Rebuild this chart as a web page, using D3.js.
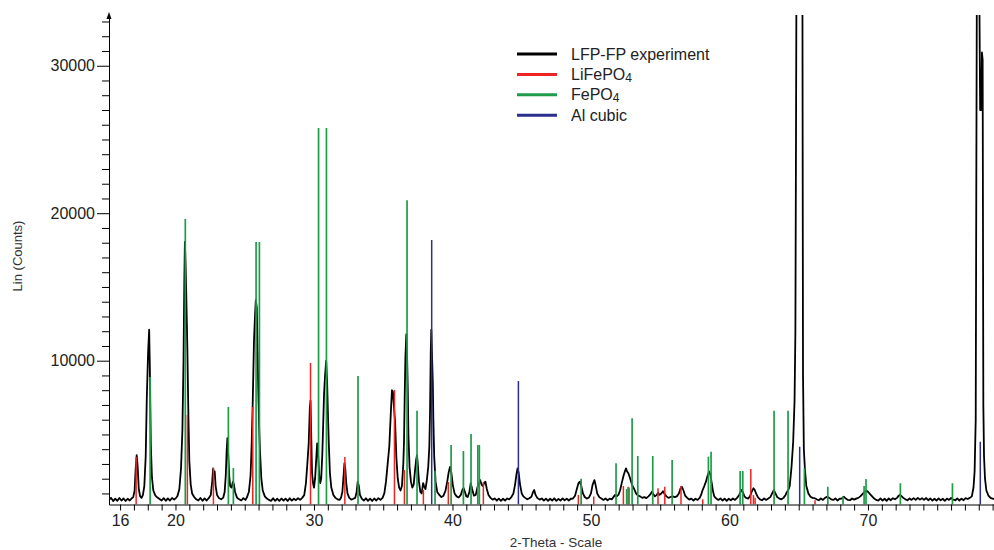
<!doctype html>
<html>
<head>
<meta charset="utf-8">
<title>XRD LFP-FP</title>
<style>
    body { margin: 0; background: #fff; }
    svg { display: block; font-family: "Liberation Sans", Arial, sans-serif; }
</style>
</head>
<body>

<svg width="994" height="550"></svg>

<script src="https://d3js.org/d3.v7.min.js"></script>
<script>
    let experiment = [
        [15.2,560],[15.35,700],[15.5,480],[15.65,650],[15.8,500],[15.95,690],[16.1,520],[16.25,660],[16.4,490],[16.55,640],
        [16.7,520],[16.85,680],[16.95,750],[17.05,1200],[17.12,2600],[17.2,3600],[17.27,2800],[17.35,1300],[17.45,800],[17.55,700],
        [17.65,900],[17.75,1500],[17.85,3500],[17.93,7500],[18.02,10500],[18.1,12100],[18.15,9500],[18.22,4300],[18.3,2100],[18.4,1200],
        [18.55,850],[18.7,720],[18.85,620],[19.0,520],[19.15,680],[19.3,500],[19.45,660],[19.6,520],[19.75,690],[19.9,580],
        [20.05,700],[20.15,850],[20.28,1300],[20.4,2700],[20.5,5300],[20.58,10000],[20.64,15500],[20.68,18050],[20.73,16500],[20.77,14900],
        [20.86,10700],[20.93,6400],[21.0,3200],[21.1,1600],[21.2,1000],[21.35,760],[21.5,600],[21.65,520],[21.8,690],[21.95,500],
        [22.1,660],[22.25,520],[22.4,680],[22.55,900],[22.65,1800],[22.72,2700],[22.78,2300],[22.83,2500],[22.9,1500],[23.0,900],
        [23.15,680],[23.3,600],[23.45,720],[23.55,1100],[23.63,2200],[23.7,4000],[23.75,4750],[23.8,3800],[23.88,2200],[23.95,1500],
        [24.05,1400],[24.15,1800],[24.22,1600],[24.3,1100],[24.45,700],[24.6,600],[24.75,520],[24.9,680],[25.05,560],[25.15,720],
        [25.3,1100],[25.42,2200],[25.5,4300],[25.58,7300],[25.67,11400],[25.75,13200],[25.8,14100],[25.87,13600],[25.93,10500],[25.99,7500],
        [26.05,5200],[26.11,3700],[26.2,2000],[26.3,1200],[26.45,800],[26.6,650],[26.75,560],[26.9,500],[27.05,670],[27.2,500],
        [27.35,640],[27.5,490],[27.65,660],[27.8,510],[27.95,650],[28.1,490],[28.25,670],[28.4,510],[28.55,640],[28.7,540],
        [28.85,680],[29.0,560],[29.15,700],[29.3,900],[29.42,1700],[29.52,3000],[29.62,4400],[29.7,6800],[29.75,7300],[29.8,5000],
        [29.86,2400],[29.93,1700],[30.0,1400],[30.08,2000],[30.16,3300],[30.23,4400],[30.3,3600],[30.38,2200],[30.45,1700],[30.52,2000],
        [30.6,3600],[30.68,6200],[30.73,7800],[30.8,9000],[30.88,10000],[30.95,8500],[31.02,6000],[31.07,4400],[31.15,2400],[31.25,1400],
        [31.4,900],[31.55,700],[31.7,600],[31.85,560],[31.95,700],[32.05,1100],[32.12,2000],[32.2,3050],[32.26,2700],[32.33,1700],
        [32.42,1000],[32.55,700],[32.7,580],[32.85,640],[32.98,700],[33.08,1100],[33.16,1800],[33.24,1500],[33.32,900],[33.45,650],
        [33.6,520],[33.75,670],[33.9,500],[34.05,650],[34.2,490],[34.35,660],[34.5,520],[34.65,680],[34.8,560],[34.95,700],
        [35.08,1000],[35.2,1800],[35.32,3000],[35.44,4200],[35.55,6500],[35.63,8000],[35.7,7900],[35.78,6800],[35.86,5800],[35.95,3400],
        [36.05,2000],[36.15,1400],[36.25,1200],[36.35,1500],[36.45,3000],[36.5,4500],[36.55,7500],[36.6,10200],[36.67,11800],[36.73,10000],
        [36.77,8200],[36.82,5000],[36.9,2800],[37.0,1800],[37.1,1400],[37.2,1600],[37.3,2600],[37.38,3300],[37.44,3600],[37.5,2900],
        [37.58,1800],[37.68,1100],[37.78,1000],[37.88,1700],[37.95,1500],[38.05,1300],[38.15,1900],[38.25,2800],[38.33,4200],[38.38,6500],
        [38.43,10500],[38.47,12100],[38.52,10500],[38.58,8500],[38.62,6000],[38.68,3500],[38.78,1800],[38.9,1100],[39.05,900],[39.2,750],
        [39.35,850],[39.5,1200],[39.62,1800],[39.72,2400],[39.82,2800],[39.92,2400],[40.02,1600],[40.15,1000],[40.3,800],[40.45,720],
        [40.6,900],[40.72,1250],[40.8,1370],[40.9,1100],[41.0,800],[41.1,760],[41.22,1100],[41.32,1700],[41.42,1300],[41.55,850],
        [41.68,900],[41.8,1400],[41.92,1700],[42.0,1900],[42.1,1600],[42.2,1500],[42.3,1750],[42.38,1800],[42.48,1300],[42.6,900],
        [42.75,700],[42.9,580],[43.05,660],[43.2,520],[43.35,650],[43.5,500],[43.65,640],[43.8,520],[43.95,660],[44.1,600],
        [44.25,750],[44.4,1000],[44.52,1600],[44.62,2300],[44.7,2700],[44.78,2400],[44.88,1600],[45.0,1000],[45.12,800],[45.25,700],
        [45.4,600],[45.55,680],[45.7,780],[45.82,1100],[45.9,1230],[46.0,900],[46.12,700],[46.3,580],[46.45,660],[46.6,510],
        [46.75,650],[46.9,500],[47.05,640],[47.2,520],[47.35,670],[47.5,500],[47.65,630],[47.8,520],[47.95,660],[48.1,540],
        [48.25,650],[48.4,520],[48.55,640],[48.7,650],[48.85,850],[48.98,1300],[49.1,1700],[49.2,1800],[49.3,1500],[49.42,1000],
        [49.55,760],[49.7,650],[49.85,720],[50.0,1000],[50.12,1600],[50.25,1900],[50.35,1500],[50.45,1000],[50.6,750],[50.75,650],
        [50.9,560],[51.05,660],[51.2,540],[51.35,650],[51.5,600],[51.62,750],[51.74,900],[51.85,800],[51.98,900],[52.1,1200],
        [52.22,1700],[52.35,2200],[52.45,2500],[52.53,2700],[52.6,2500],[52.7,2370],[52.8,2100],[52.9,1800],[53.0,1500],[53.12,1300],
        [53.25,1000],[53.4,850],[53.55,800],[53.7,700],[53.85,750],[54.0,680],[54.15,800],[54.3,950],[54.4,1120],[54.5,950],
        [54.62,800],[54.75,900],[54.85,1050],[54.95,900],[55.08,1000],[55.2,1150],[55.32,950],[55.45,800],[55.6,700],[55.75,760],
        [55.9,800],[56.05,750],[56.2,800],[56.35,1000],[56.45,1300],[56.56,1460],[56.68,1200],[56.8,850],[56.95,700],[57.1,580],
        [57.25,650],[57.4,520],[57.55,640],[57.7,560],[57.85,700],[57.95,900],[58.05,1200],[58.18,1500],[58.3,1800],[58.42,2200],
        [58.53,2480],[58.62,2300],[58.72,1700],[58.8,1200],[58.9,800],[59.05,650],[59.2,560],[59.35,660],[59.5,520],[59.65,650],
        [59.8,500],[59.95,640],[60.1,540],[60.25,660],[60.4,560],[60.55,700],[60.7,900],[60.8,1100],[60.88,1230],[60.96,1100],
        [61.08,800],[61.2,700],[61.35,650],[61.48,800],[61.6,1100],[61.73,1350],[61.82,1250],[61.92,1000],[62.05,750],[62.2,600],
        [62.35,540],[62.5,660],[62.65,560],[62.8,650],[62.95,750],[63.08,1000],[63.2,1230],[63.32,1000],[63.45,750],[63.6,650],
        [63.75,600],[63.9,700],[64.05,900],[64.15,1100],[64.25,1230],[64.35,1500],[64.48,2800],[64.6,4500],[64.7,7300],[64.76,12000],
        [64.8,24000],[64.85,40000],[65.05,45000],[65.26,40000],[65.31,9000],[65.37,4000],[65.45,2600],[65.55,1500],[65.7,1000],[65.85,780],
        [66.0,700],[66.15,680],[66.3,600],[66.45,540],[66.6,660],[66.75,560],[66.9,700],[67.05,780],[67.2,700],[67.35,600],
        [67.5,560],[67.65,660],[67.8,520],[67.95,640],[68.1,650],[68.25,780],[68.4,650],[68.55,560],[68.7,540],[68.85,660],
        [69.0,580],[69.15,650],[69.3,700],[69.45,800],[69.6,950],[69.75,1100],[69.9,1180],[70.02,1100],[70.15,950],[70.3,800],
        [70.45,650],[70.6,560],[70.75,520],[70.9,660],[71.05,520],[71.2,640],[71.35,500],[71.5,660],[71.65,540],[71.8,680],
        [71.95,600],[72.1,700],[72.22,850],[72.3,900],[72.42,820],[72.55,700],[72.7,600],[72.85,540],[73.0,660],[73.15,560],
        [73.3,680],[73.45,560],[73.6,700],[73.75,580],[73.9,680],[74.05,560],[74.2,690],[74.35,540],[74.5,660],[74.65,510],
        [74.8,640],[74.95,520],[75.1,660],[75.25,530],[75.4,640],[75.55,500],[75.7,650],[75.85,560],[76.0,690],[76.15,580],
        [76.3,540],[76.45,660],[76.6,520],[76.75,650],[76.9,540],[77.05,680],[77.2,620],[77.35,700],[77.5,800],[77.62,1400],
        [77.7,2500],[77.78,6000],[77.82,21000],[77.87,38000],[78.02,38000],[78.1,27000],[78.17,27000],[78.23,30900],[78.28,30400],[78.33,7000],
        [78.38,3500],[78.45,2000],[78.55,1200],[78.7,850],[78.85,700],[79.0,650],[79.1,620]
    ];

    // reference patterns: [2-theta, counts]
    let lifepo4 = [
        [17.16,3470],[20.86,6320],[22.74,2725],[25.58,6860],[29.75,9840],[32.23,3470],[35.81,8010],[36.53,2590],
        [37.9,1230],[39.7,1780],[42.23,1780],[49.09,900],[50.2,800],[52.34,1500],[52.68,1460],[54.84,1350],
        [55.33,1460],[56.5,1500],[58.07,600],[61.54,2660],[61.73,900],[61.85,700],[66.18,540]
    ];
    let fepo4 = [
        [18.17,8900],[20.71,19600],[23.82,6860],[24.18,2725],[25.82,18050],[26.06,18050],[30.33,25780],[30.9,25780],
        [33.18,8960],[36.72,20880],[37.44,6610],[38.74,2540],[39.9,4280],[40.79,3880],[41.34,5030],[41.83,4280],
        [41.94,4280],[49.29,2000],[51.81,3040],[52.58,1300],[52.75,1400],[52.97,6100],[53.38,3540],[54.46,3540],
        [55.86,3270],[58.48,3490],[58.67,3830],[60.77,2520],[60.96,2520],[63.22,6610],[64.23,6610],[65.41,2700],
        [67.1,1460],[68.2,800],[69.72,1500],[69.86,1980],[72.34,1690],[76.1,1690]
    ];
    let alCubic = [[38.5,18180],[44.76,8620],[65.07,4170],[78.11,4510]];

    let xTickLabels = [16, 20, 30, 40, 50, 60, 70];
    let yTickLabels = [10000, 20000, 30000];

    let legendNames = ["LFP-FP experiment", "LiFePO", "FePO", "Al cubic"];
    let legendSubs = ["", "4", "4", ""];
    let colors = {exp: "#000000", lfp: "#ee2424", fp: "#1f9b4a", al: "#2c2e8e"};

    let svg = d3.select("svg");

    let x = d3.scaleLinear().domain([15.2, 79.1]).range([109, 994]);
    let y = d3.scaleLinear().domain([250, 33440]).range([504.5, 15]);

    svg.append("defs").append("clipPath")
        .attr("id", "plot")
        .append("rect")
        .attr("x", 109).attr("y", 15)
        .attr("width", 994 - 109).attr("height", 504.5 - 15);

    let plot = svg.append("g").attr("clip-path", "url(#plot)");

    let line = d3.line()
        .x(function(d) { return x(d[0]); })
        .y(function(d) { return y(d[1]); });

    plot.append("path")
        .datum(experiment)
        .attr("fill", "none")
        .attr("stroke", colors.exp)
        .attr("stroke-width", 1.8)
        .attr("stroke-linejoin", "round")
        .attr("d", line);

    function sticks(data, color, width) {
        plot.append("g")
            .selectAll("line")
            .data(data)
            .enter()
            .append("line")
            .attr("x1", function(d) { return x(d[0]); })
            .attr("x2", function(d) { return x(d[0]); })
            .attr("y1", y(250))
            .attr("y2", function(d) { return y(d[1]); })
            .attr("stroke", color)
            .attr("stroke-width", width);
    }
    sticks(lifepo4, colors.lfp, 1.5);
    sticks(fepo4, colors.fp, 1.7);
    sticks(alCubic, colors.al, 1.5);

    // x axis, a tick every degree
    let xAxis = d3.axisBottom(x)
        .tickValues(d3.range(16, 80))
        .tickSize(6)
        .tickSizeOuter(0)
        .tickPadding(4)
        .tickFormat(function(d) { return xTickLabels.indexOf(d) >= 0 ? d : ""; });

    let gx = svg.append("g")
        .attr("transform", "translate(0," + y(250) + ")")
        .call(xAxis);
    gx.selectAll("text").attr("font-size", 16).attr("fill", "#222").attr("font-family", null);

    // y axis, a tick every 1000 counts
    let yAxis = d3.axisLeft(y)
        .tickValues(d3.range(1000, 34000, 1000))
        .tickSize(7)
        .tickSizeOuter(0)
        .tickFormat(function(d) { return yTickLabels.indexOf(d) >= 0 ? d : ""; });

    let gy = svg.append("g")
        .attr("transform", "translate(109,0)")
        .call(yAxis);
    gy.selectAll(".tick")
        .filter(function(d) { return yTickLabels.indexOf(d) >= 0; })
        .select("line").attr("x2", -12);
    gy.selectAll("text").attr("x", -14).attr("font-size", 16).attr("fill", "#222").attr("font-family", null);

    svg.selectAll(".domain").attr("stroke", "#000");

    // little arrow at top of y axis
    svg.append("path")
        .attr("d", "M106.5,19 L109,12 L111.5,19 Z")
        .attr("fill", "#000");

    svg.append("text")
        .attr("x", 556).attr("y", 547)
        .attr("text-anchor", "middle")
        .attr("font-size", 13.5)
        .attr("fill", "#333")
        .text("2-Theta - Scale");

    svg.append("text")
        .attr("transform", "translate(22,256) rotate(-90)")
        .attr("text-anchor", "middle")
        .attr("font-size", 13)
        .attr("fill", "#333")
        .text("Lin (Counts)");

    // legend
    let legendColors = [colors.exp, colors.lfp, colors.fp, colors.al];
    let legend = svg.append("g");
    legendNames.forEach(function(name, i) {
        let ly = 54 + i * 20.4;
        legend.append("line")
            .attr("x1", 517).attr("x2", 557)
            .attr("y1", ly).attr("y2", ly)
            .attr("stroke", legendColors[i])
            .attr("stroke-width", 3);
        let t = legend.append("text")
            .attr("x", 571).attr("y", ly + 5.5)
            .attr("font-size", 16)
            .attr("fill", "#222")
            .text(name);
        if (legendSubs[i]) {
            t.append("tspan").attr("font-size", 12).attr("dy", 2).text(legendSubs[i]);
        }
    });
</script>

</body>
</html>
